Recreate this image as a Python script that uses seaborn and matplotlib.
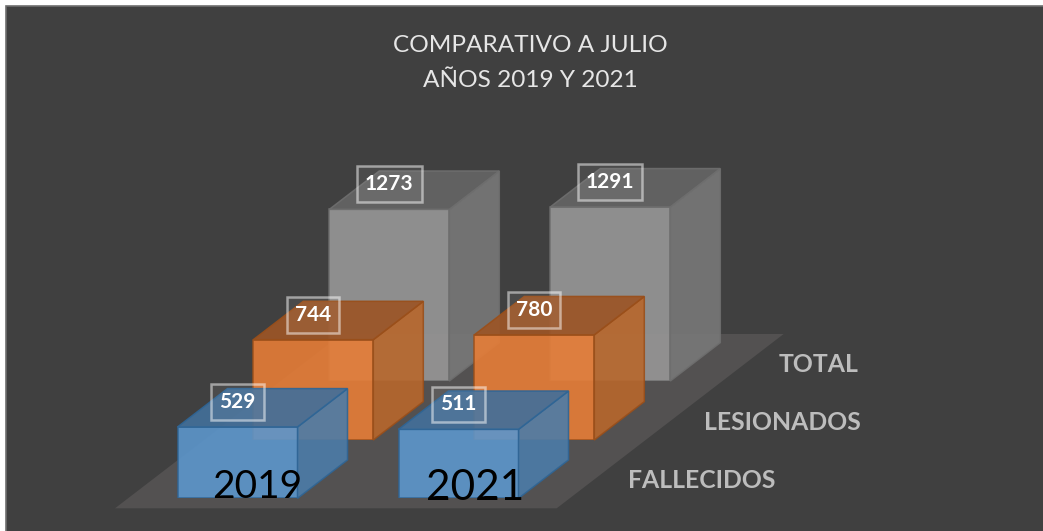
import matplotlib
matplotlib.use("Agg")
import matplotlib.pyplot as plt
from matplotlib.patches import Polygon, Rectangle
import seaborn as sns

sns.set_theme(style="dark")
plt.rcParams['font.family'] = ['Lato', 'DejaVu Sans']

W, H = 1043, 531
years = ["2019", "2021"]
fallecidos = [529, 511]
lesionados = [744, 780]
total = [1273, 1291]
series_names = ["TOTAL", "LESIONADOS", "FALLECIDOS"]
title_lines = "COMPARATIVO A JULIO\nAÑOS 2019 Y 2021"

BG = "#404040"
FLOOR = "#535151"
SPACING = 221.0      # px between categories
BAR_W = 120.0        # px
SCALE = 0.1348       # px per unit
DEPTH = (50.0, 38.4) # px
YMAX = 1600

# series, front colour, side colour, top colour, edge, first-bar centre px, baseline px
layers = [
    (total, "#979797", "#787878", "#646464", "#6e6e6e", 389.3, 381.0),
    (lesionados, "#E67D37", "#B8672C", "#9C5526", "#9a4f1a", 313.3, 440.0),
    (fallecidos, "#5C96CC", "#4C7CA8", "#436F99", "#2f6595", 237.5, 498.3),
]

fig = plt.figure(figsize=(W / 100, H / 100), dpi=100, facecolor="white")

bg = fig.add_axes([0, 0, 1, 1], zorder=0)
bg.set_xlim(0, W)
bg.set_ylim(H, 0)
bg.axis("off")
bg.add_patch(Rectangle((6, 6), W, H, facecolor=BG, edgecolor="#6e6e6e", lw=1.2))

# floor, derived from the layer geometry
front_base, back_base = layers[2][6] + 10, layers[0][6] - 47
rise = front_base - back_base
slant = rise * DEPTH[0] / DEPTH[1]
fl = layers[2][5] - 122.5
fr = fl + 441.7
bg.add_patch(Polygon([(fl, front_base), (fr, front_base),
                      (fr + slant, back_base), (fl + slant, back_base)],
                     closed=True, facecolor=FLOOR, edgecolor="none"))

bg.text(530.5, 63, title_lines, color="#E6E6E6", fontsize=17.6, ha="center",
        va="center", linespacing=1.8)
for name, (cx, cy) in zip(series_names, [(819, 364), (782.5, 422), (701.5, 480)]):
    bg.text(cx, cy, name, color="#BDBDBD", fontsize=17.8, fontweight="bold",
            ha="center", va="center")

dx = DEPTH[0] / SPACING
dy = DEPTH[1] / SCALE
label_off = 25.0 / SCALE

for i, (vals, front, side, top, edge, xc, base) in enumerate(layers):
    ax = fig.add_axes([(xc - SPACING / 2) / W, (H - base) / H,
                       2 * SPACING / W, YMAX * SCALE / H], zorder=i + 1)
    sns.barplot(x=years, y=vals, ax=ax, color=front, saturation=1,
                width=BAR_W / SPACING, edgecolor=edge, linewidth=1.1, alpha=0.9)
    ax.set_xlim(-0.5, 1.5)
    ax.set_ylim(0, YMAX)
    ax.axis("off")
    ax.patch.set_visible(False)
    for j, bar in enumerate(list(ax.patches)):
        x0, w, h = bar.get_x(), bar.get_width(), bar.get_height()
        x1 = x0 + w
        ax.add_patch(Polygon([(x1, 0), (x1 + dx, dy), (x1 + dx, h + dy), (x1, h)],
                             closed=True, facecolor=side, edgecolor=edge,
                             lw=1.1, alpha=0.9, clip_on=False))
        ax.add_patch(Polygon([(x0, h), (x1, h), (x1 + dx, h + dy), (x0 + dx, h + dy)],
                             closed=True, facecolor=top, edgecolor=edge,
                             lw=1.1, alpha=0.92, clip_on=False))
        ax.text(x0 + w / 2, h + label_off, str(vals[j]), color="white",
                fontsize=15, fontweight="bold", ha="center", va="center",
                zorder=5, clip_on=False,
                bbox=dict(boxstyle="square,pad=0.38", facecolor=(1, 1, 1, 0.06),
                          edgecolor=(1, 1, 1, 0.5), linewidth=1.8))
    if vals is fallecidos:
        for j, (yr, fs, shift) in enumerate(zip(years, [28, 30.5], [0.09, 0.073])):
            ax.text(j + shift, -1 / SCALE * (j * 2), yr, color="black",
                    fontsize=fs, ha="center", va="baseline", zorder=6, clip_on=False)

fig.savefig("out.png", dpi=100, facecolor="white")
